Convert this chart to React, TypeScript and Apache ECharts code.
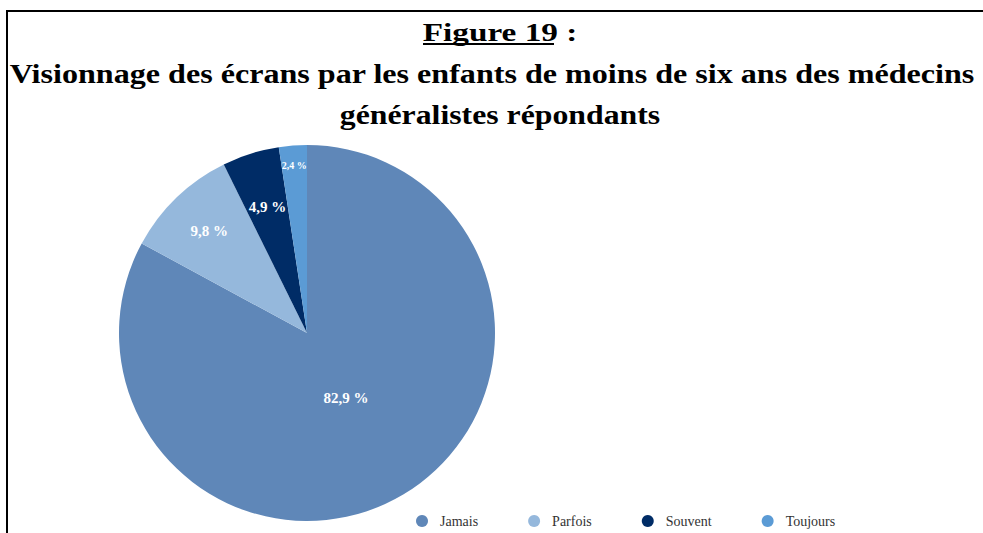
import React, { useEffect, useRef } from "react";
import * as echarts from "echarts";

const categories = ["Jamais", "Parfois", "Souvent", "Toujours"];
const values = [82.9, 9.8, 4.9, 2.4];
const colors = ["#5f87b8", "#95b8dc", "#002c66", "#5b9bd5"];
const labelTexts = ["82,9 %", "9,8 %", "4,9 %", "2,4 %"];
const titleLines = [
  "Figure 19 :",
  "Visionnage des écrans par les enfants de moins de six ans des médecins",
  "généralistes répondants",
];

const CX = 307;
const CY = 333;
const R = 188;
// radial ring used to place each label (label sits at ring's mid radius)
const labelRings: [number, number][] = [
  [0, 146],
  [90, 186],
  [72, 186],
  [144, 186],
];
const labelSizes = [15, 15, 15, 10];

const SERIF = "'Liberation Serif', 'Times New Roman', serif";

export default function App() {
  const ref = useRef<HTMLDivElement>(null);
  useEffect(() => {
    if (!ref.current) return;
    const chart = echarts.init(ref.current, undefined, { renderer: "svg" });

    const mainData = categories.map((name, i) => ({
      name,
      value: values[i],
      itemStyle: { color: colors[i] },
    }));

    const labelSeries = labelRings.map((ring, k) => ({
      type: "pie",
      silent: true,
      center: [CX, CY],
      radius: ring,
      startAngle: 90,
      clockwise: true,
      avoidLabelOverlap: false,
      legendHoverLink: false,
      z: 5,
      itemStyle: { color: "rgba(0,0,0,0)", borderWidth: 0 },
      emphasis: { disabled: true },
      labelLine: { show: false },
      data: categories.map((name, i) => ({
        name,
        value: values[i],
        label: {
          show: i === k,
          position: "inside",
          formatter: labelTexts[i],
          color: "#ffffff",
          fontFamily: SERIF,
          fontWeight: "bold",
          fontSize: labelSizes[i],
        },
      })),
    }));

    chart.setOption({
      animation: false,
      backgroundColor: "#ffffff",
      legend: {
        data: categories.map((name, i) => ({ name, itemStyle: { color: colors[i] } })),
        left: 411,
        top: 509,
        icon: "circle",
        itemWidth: 26,
        itemHeight: 12,
        itemGap: 50,
        textStyle: { fontFamily: SERIF, fontSize: 14, color: "#333333" },
        selectedMode: false,
      },
      graphic: [
        { type: "line", shape: { x1: 7, y1: 10, x2: 7, y2: 533 }, style: { stroke: "#000", lineWidth: 2 } },
        { type: "line", shape: { x1: 6, y1: 11, x2: 983, y2: 11 }, style: { stroke: "#000", lineWidth: 2 } },
        {
          type: "text",
          x: 500,
          y: 32,
          scaleX: 1.28,
          style: { text: titleLines[0], fill: "#000", font: `bold 26px ${SERIF}`, textAlign: "center", textVerticalAlign: "middle" },
        },
        { type: "rect", shape: { x: 423, y: 43, width: 131, height: 2 }, style: { fill: "#000" } },
        {
          type: "text",
          x: 492,
          y: 74,
          scaleX: 1.147,
          style: { text: titleLines[1], fill: "#000", font: `bold 28px ${SERIF}`, textAlign: "center", textVerticalAlign: "middle" },
        },
        {
          type: "text",
          x: 500,
          y: 114,
          scaleX: 1.135,
          style: { text: titleLines[2], fill: "#000", font: `bold 28px ${SERIF}`, textAlign: "center", textVerticalAlign: "middle" },
        },
      ],
      series: [
        {
          type: "pie",
          center: [CX, CY],
          radius: [0, R],
          startAngle: 90,
          clockwise: true,
          label: { show: false },
          labelLine: { show: false },
          itemStyle: { borderWidth: 0 },
          emphasis: { disabled: true },
          data: mainData,
        },
        ...labelSeries,
      ],
    });
    return () => chart.dispose();
  }, []);
  return <div ref={ref} style={{ position: "absolute", left: 0, top: 0, width: 983, height: 533 }} />;
}
